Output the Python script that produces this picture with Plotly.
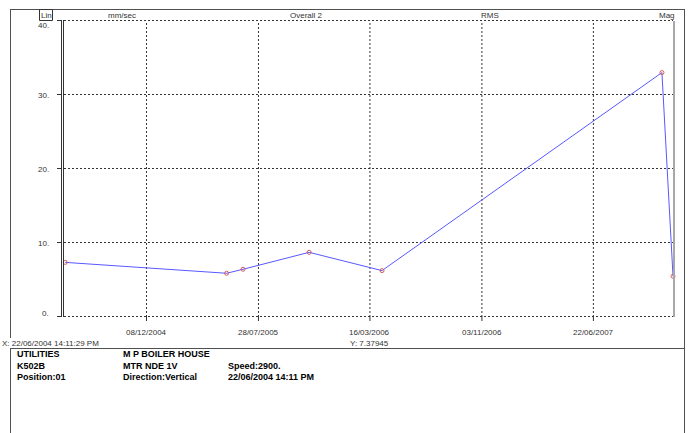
import plotly.graph_objects as go

# Trend of overall velocity (mm/sec RMS) for one measurement point
dates = ["2004-06-22 14:11:29", "2005-05-23", "2005-06-26", "2005-11-10",
         "2006-04-10", "2007-11-11", "2007-12-04"]
values = [7.37945, 5.91, 6.45, 8.74, 6.27, 33.03, 5.50]

x_ticks = ["2004-12-08", "2005-07-28", "2006-03-16", "2006-11-03", "2007-06-22"]
x_tick_labels = ["08/12/2004", "28/07/2005", "16/03/2006", "03/11/2006", "22/06/2007"]
y_ticks = [0, 10, 20, 30, 40]
y_tick_labels = ["0.", "10.", "20.", "30.", "40."]

header_labels = ["mm/sec", "Overall 2", "RMS", "Mag"]
info_col1 = ["UTILITIES", "K502B", "Position:01"]
info_col2 = ["M P BOILER HOUSE", "MTR NDE 1V", "Direction:Vertical"]
info_col3 = ["", "Speed:2900.", "22/06/2004 14:11 PM"]
cursor_x = "X: 22/06/2004 14:11:29 PM"
cursor_y = "Y: 7.37945"

W, H = 691, 433
L, R, T, B = 63, 674, 21, 317  # plot area in pixels
Y_MIN, Y_MAX = 0, 40


def px(x):
    return (x - L) / (R - L)


def py(y):
    return (B - y) / (B - T)


def value_to_py(v):
    # pixel row of a value on the y axis, nudged half a pixel for crisp 1px lines
    return B - (v - Y_MIN) / (Y_MAX - Y_MIN) * (B - T) - 0.5


FONT = "Liberation Sans, Arial, sans-serif"
SMALL = dict(family=FONT, size=8, color="#333333")
BOLD = dict(family=FONT, size=9, color="#000000")
FRAME = "#505050"
DOT = "2px,2px"

fig = go.Figure()
fig.add_trace(go.Scatter(
    x=dates, y=values, mode="lines+markers",
    line=dict(color="#5858ff", width=1),
    marker=dict(symbol="circle-open", size=4, color="#d85a5a", line=dict(width=1)),
    cliponaxis=False, showlegend=False, hoverinfo="skip",
))

shapes = []
# dotted grid: verticals at date ticks, horizontals at value ticks
for d in x_ticks:
    shapes.append(dict(type="line", xref="x", yref="paper", x0=d, x1=d, y0=0, y1=1,
                       line=dict(color="#333333", width=1, dash=DOT), layer="below"))
for v in y_ticks:
    yy = py(value_to_py(v))
    shapes.append(dict(type="line", xref="paper", yref="paper", x0=px(64), x1=px(673),
                       y0=yy, y1=yy, line=dict(color="#333333", width=1, dash=DOT),
                       layer="below"))
    # tick mark left of the axis
    shapes.append(dict(type="line", xref="paper", yref="paper", x0=px(57), x1=px(61),
                       y0=yy, y1=yy, line=dict(color="#333333", width=1)))
# double left axis line and grey right edge
for xx in (61.5, 63.5):
    shapes.append(dict(type="line", xref="paper", yref="paper", x0=px(xx), x1=px(xx),
                       y0=py(317), y1=py(20), line=dict(color="#333333", width=1)))
shapes.append(dict(type="line", xref="paper", yref="paper", x0=px(674), x1=px(674),
                   y0=py(317), y1=py(21), line=dict(color="#a8a8a8", width=2)))
# outer frame and separators
frame_lines = [
    (10, 9.5, 685, 9.5),
    (10.5, 9.5, 10.5, 338),
    (10.5, 348, 10.5, 433),
    (684.5, 9.5, 684.5, 433),
    (10.5, 348.5, 684.5, 348.5),
]
for x0, y0, x1, y1 in frame_lines:
    shapes.append(dict(type="line", xref="paper", yref="paper",
                       x0=px(x0), x1=px(x1), y0=py(y0), y1=py(y1),
                       line=dict(color=FRAME, width=1)))
# "Lin" box
shapes.append(dict(type="rect", xref="paper", yref="paper",
                   x0=px(39.5), x1=px(52.5), y0=py(20.5), y1=py(9.5),
                   line=dict(color="#333333", width=1)))
# date tick marks below the axis
for d in x_ticks:
    shapes.append(dict(type="line", xref="x", yref="paper", x0=d, x1=d,
                       y0=py(317), y1=py(321), line=dict(color="#333333", width=1)))

ann = []
for d, t in zip(x_ticks, x_tick_labels):
    ann.append(dict(x=d, xref="x", y=py(333), yref="paper", text=t, showarrow=False,
                    xanchor="center", yanchor="middle", font=SMALL))
for v, t in zip(y_ticks, y_tick_labels):
    shift = 4 if v == y_ticks[0] else (-4 if v == y_ticks[-1] else 0)
    ann.append(dict(x=px(51), xref="paper", y=v, yref="y", yshift=shift, text=t,
                    showarrow=False, xanchor="right", yanchor="middle", font=SMALL))
for t, cx in zip(header_labels, (122, 306, 490, 667)):
    ann.append(dict(x=px(cx), xref="paper", y=py(15), yref="paper", text=t,
                    showarrow=False, xanchor="center", yanchor="middle", font=SMALL))
ann.append(dict(x=px(46), xref="paper", y=py(15), yref="paper", text="Lin",
                showarrow=False, xanchor="center", yanchor="middle", font=SMALL))
ann.append(dict(x=px(0), xref="paper", y=py(343), yref="paper", text=cursor_x,
                showarrow=False, xanchor="left", yanchor="middle", font=SMALL))
ann.append(dict(x=px(348), xref="paper", y=py(343), yref="paper", text=cursor_y,
                showarrow=False, xanchor="left", yanchor="middle", font=SMALL))
for col, cx in ((info_col1, 15), (info_col2, 121), (info_col3, 226)):
    for t, cy in zip(col, (354, 365.5, 376.5)):
        if t:
            ann.append(dict(x=px(cx), xref="paper", y=py(cy), yref="paper",
                            text="<b>" + t + "</b>", showarrow=False,
                            xanchor="left", yanchor="middle", font=BOLD))

fig.update_layout(
    width=W, height=H,
    margin=dict(l=L, r=W - R, t=T, b=H - B, pad=0),
    paper_bgcolor="white", plot_bgcolor="white",
    xaxis=dict(type="date", range=["2004-06-18", "2007-12-06"], showgrid=False,
               zeroline=False, showline=False, showticklabels=False, ticks=""),
    yaxis=dict(range=[Y_MIN, Y_MAX], showgrid=False, zeroline=False, showline=False,
               showticklabels=False, ticks=""),
    shapes=shapes, annotations=ann,
)

fig.write_html("out.html")
